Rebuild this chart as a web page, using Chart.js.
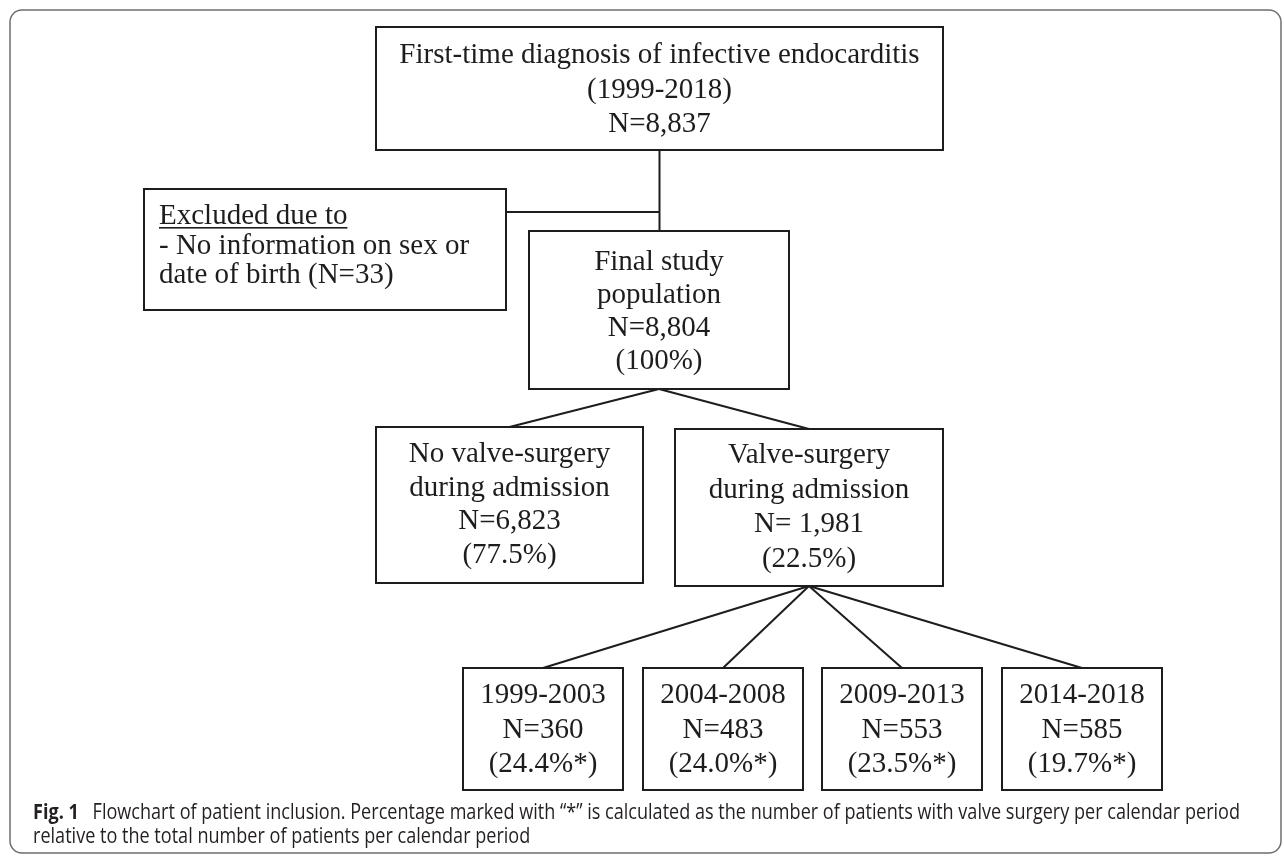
<!DOCTYPE html>
<html><head><meta charset="utf-8">
<script src="https://cdn.jsdelivr.net/npm/chart.js@4/dist/chart.umd.min.js"></script>
<style>html,body{margin:0;padding:0;background:#fff;}#wrap{width:1284px;height:856px;position:relative;}canvas{display:block;}</style>
</head><body><div id="wrap"><canvas id="c" width="1284" height="856" style="width:1284px;height:856px"></canvas></div>
<script>
// ---------- DATA ----------
const studyPeriod = '1999-2018';
const nDiagnosed = 8837;
const nExcluded = 33;
const nFinal = 8804;
const finalPct = 100;
const surgeryGroups = ['No valve-surgery', 'Valve-surgery'];
const surgeryN = [6823, 1981];
const surgeryPct = [77.5, 22.5];
const periods = ['1999-2003', '2004-2008', '2009-2013', '2014-2018'];
const periodN = [360, 483, 553, 585];
const periodPct = [24.4, 24.0, 23.5, 19.7];
const captionBold = 'Fig. 1';
const captionLines = [
  'Flowchart of patient inclusion. Percentage marked with \u201c*\u201d is calculated as the number of patients with valve surgery per calendar period',
  'relative to the total number of patients per calendar period'
];

// ---------- LAYOUT (figure units) ----------
const L = {
  frame: [10, 10, 1281, 853],
  top:   {box: [376, 27, 943, 150], first: 36, step: 34.5},
  excl:  {box: [144, 189, 506, 310], first: 35, step: 29.5, left: 159},
  final: {box: [529, 231, 789, 389], first: 39, step: 33},
  groups: [
    {box: [376, 427, 643, 583], first: 35, step: 33.7},
    {box: [675, 429, 943, 586], first: 34, step: 34.6}
  ],
  periodLeft: [463, 643, 822, 1002], periodW: 160, periodY: [668, 790], periodFirst: 35, periodStep: 34.5,
  captionX: 33, captionY: [819, 843], captionW: 1207
};

const fmt = n => n.toLocaleString('en-US');
const cx = b => (b[0] + b[2]) / 2;

// connectors as line datasets through the chart scales
const topB = L.top.box, finB = L.final.box, exB = L.excl.box;
const g0 = L.groups[0].box, g1 = L.groups[1].box;
const periodBoxes = periods.map((p, i) => [L.periodLeft[i], L.periodY[0], L.periodLeft[i] + L.periodW, L.periodY[1]]);
const connectors = [
  [{x: cx(topB), y: topB[3]}, {x: cx(topB), y: finB[1]}],
  [{x: exB[2], y: 212}, {x: cx(topB), y: 212}],
  [{x: cx(finB), y: finB[3]}, {x: cx(g0), y: g0[1]}],
  [{x: cx(finB), y: finB[3]}, {x: cx(g1), y: g1[1]}],
  ...periodBoxes.map(b => [{x: cx(g1), y: g1[3]}, {x: cx(b), y: b[1]}])
];

const INK = '#1d1d1d';
const SERIF = '29px "Liberation Serif", "Times New Roman", serif';

const flowPlugin = {
  id: 'flow',
  beforeDraw(chart) {
    const ctx = chart.ctx, X = v => chart.scales.x.getPixelForValue(v), Y = v => chart.scales.y.getPixelForValue(v);
    ctx.save();
    ctx.fillStyle = '#fff';
    ctx.fillRect(0, 0, chart.width, chart.height);
    const f = L.frame;
    ctx.strokeStyle = '#6e6e6e'; ctx.lineWidth = 1.5;
    ctx.beginPath();
    ctx.roundRect(X(f[0]), Y(f[1]), X(f[2]) - X(f[0]), Y(f[3]) - Y(f[1]), 12);
    ctx.stroke();
    ctx.restore();
  },
  afterDraw(chart) {
    const ctx = chart.ctx, X = v => chart.scales.x.getPixelForValue(v), Y = v => chart.scales.y.getPixelForValue(v);
    ctx.save();
    const box = (b) => {
      ctx.strokeStyle = INK; ctx.lineWidth = 2;
      ctx.strokeRect(X(b[0]), Y(b[1]), X(b[2]) - X(b[0]), Y(b[3]) - Y(b[1]));
    };
    const centered = (b, lines, first, step) => {
      ctx.font = SERIF; ctx.fillStyle = INK; ctx.textAlign = 'center'; ctx.textBaseline = 'alphabetic';
      lines.forEach((t, i) => ctx.fillText(t, X(cx(b)), Y(b[1] + first + i * step)));
    };
    box(L.top.box);
    centered(L.top.box, ['First-time diagnosis of infective endocarditis', '(' + studyPeriod + ')', 'N=' + fmt(nDiagnosed)], L.top.first, L.top.step);
    box(exB);
    ctx.font = SERIF; ctx.fillStyle = INK; ctx.textAlign = 'left';
    const exLines = ['Excluded due to', '- No information on sex or', 'date of birth (N=' + nExcluded + ')'];
    exLines.forEach((t, i) => ctx.fillText(t, X(L.excl.left), Y(exB[1] + L.excl.first + i * L.excl.step)));
    const uw = ctx.measureText(exLines[0]).width;
    ctx.fillRect(X(L.excl.left), Y(exB[1] + L.excl.first + 3), uw, 1.6);
    box(finB);
    centered(finB, ['Final study', 'population', 'N=' + fmt(nFinal), '(' + finalPct + '%)'], L.final.first, L.final.step);
    L.groups.forEach((g, i) => {
      box(g.box);
      centered(g.box, [surgeryGroups[i], 'during admission', (i === 1 ? 'N= ' : 'N=') + fmt(surgeryN[i]), '(' + surgeryPct[i].toFixed(1) + '%)'], g.first, g.step);
    });
    periodBoxes.forEach((b, i) => {
      box(b);
      centered(b, [periods[i], 'N=' + periodN[i], '(' + periodPct[i].toFixed(1) + '%*)'], L.periodFirst, L.periodStep);
    });
    ctx.fillStyle = '#231f20'; ctx.textAlign = 'left';
    const boldF = 'bold 21px "Open Sans", "Noto Sans", sans-serif';
    const regF = '21px "Open Sans", "Noto Sans", sans-serif';
    ctx.font = boldF; const bw = ctx.measureText(captionBold).width;
    ctx.font = regF;
    const gap = 16;
    const w1 = bw + gap + ctx.measureText(captionLines[0]).width;
    const sx = Math.min(1, L.captionW / w1);
    ctx.save();
    ctx.translate(X(L.captionX), 0);
    ctx.scale(sx, 1);
    ctx.font = boldF; ctx.fillText(captionBold, 0, Y(L.captionY[0]));
    ctx.font = regF; ctx.fillText(captionLines[0], bw + gap, Y(L.captionY[0]));
    ctx.fillText(captionLines[1], 0, Y(L.captionY[1]));
    ctx.restore();
    ctx.restore();
  }
};

new Chart(document.getElementById('c'), {
  type: 'line',
  data: {
    datasets: connectors.map(pts => ({
      data: pts, borderColor: INK, borderWidth: 2, pointRadius: 0, tension: 0, fill: false
    }))
  },
  options: {
    responsive: false, animation: false, devicePixelRatio: 1,
    layout: {padding: 0},
    plugins: {legend: {display: false}, tooltip: {enabled: false}},
    scales: {
      x: {type: 'linear', min: 0, max: 1284, display: false},
      y: {type: 'linear', min: 0, max: 856, reverse: true, display: false}
    }
  },
  plugins: [flowPlugin]
});
</script>
</body></html>
